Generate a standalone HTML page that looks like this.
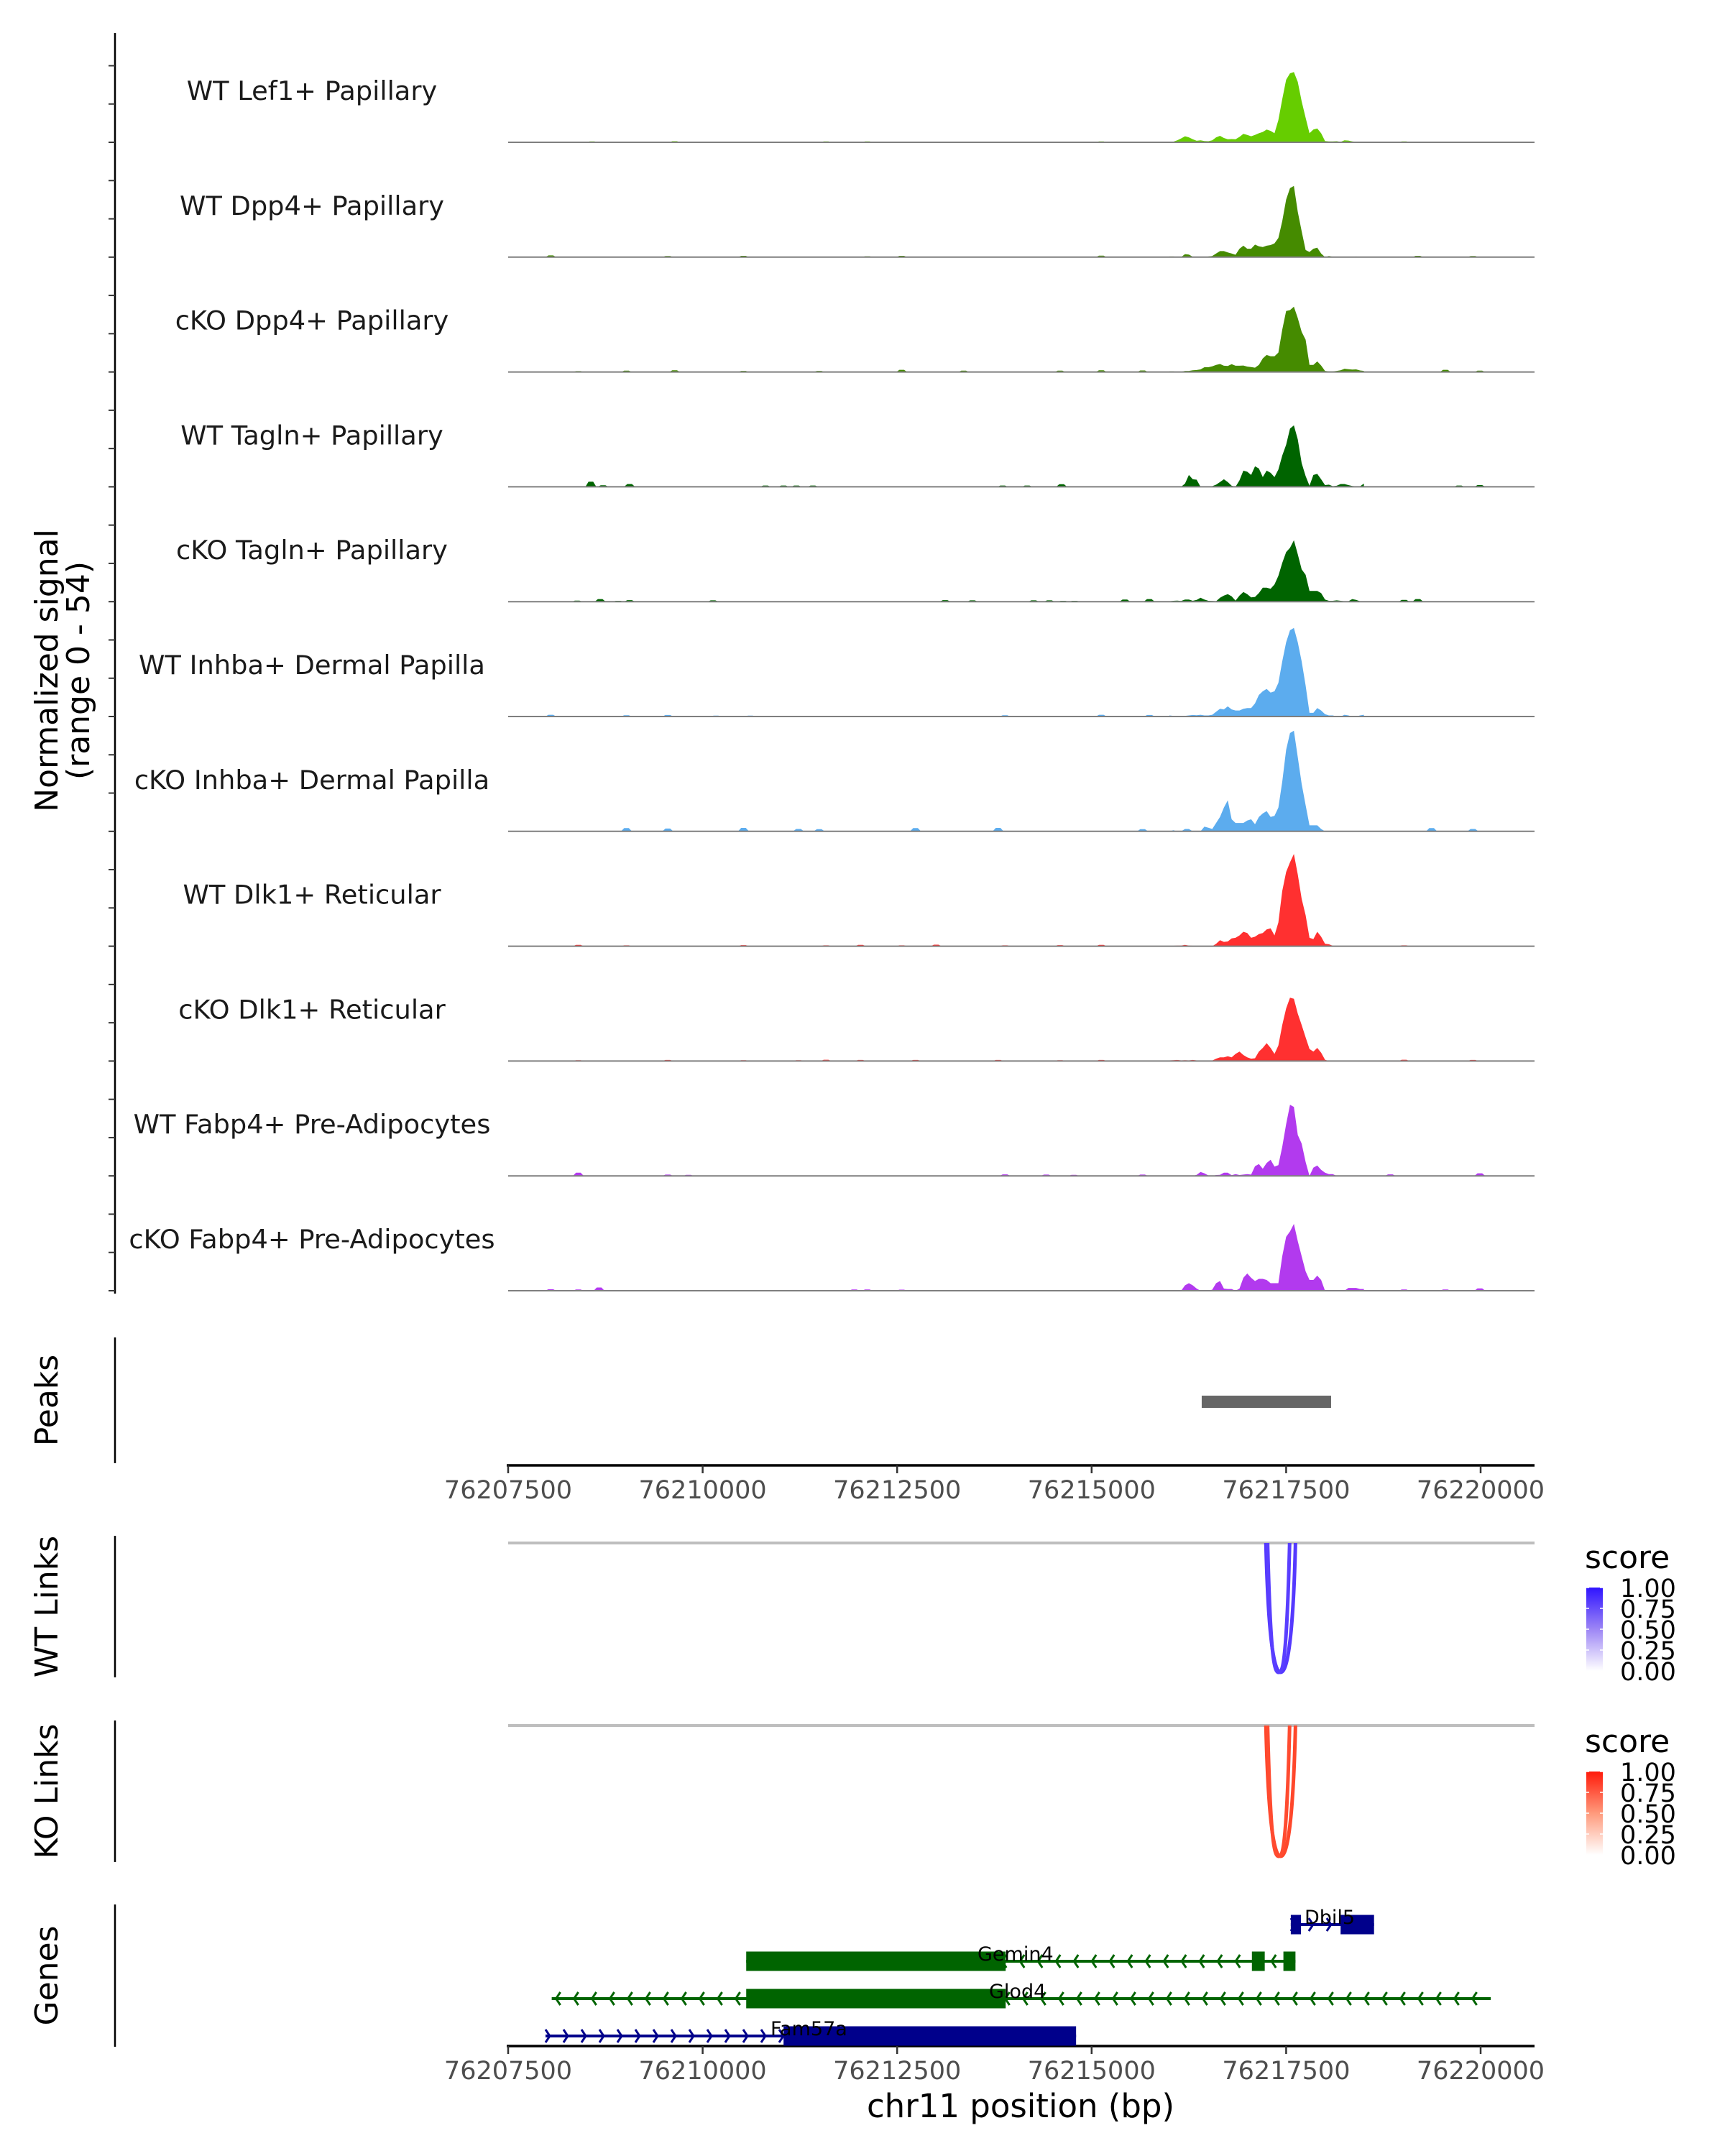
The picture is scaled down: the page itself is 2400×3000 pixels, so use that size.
<!DOCTYPE html>
<html><head><meta charset="utf-8"><style>
html,body{margin:0;padding:0;background:#fff;}
svg{display:block;font-family:"DejaVu Sans","Liberation Sans",sans-serif;}
</style></head><body>
<svg id="fig" width="2400" height="3000" viewBox="0 0 2400 3000" xmlns="http://www.w3.org/2000/svg">
<defs>
<linearGradient id="gWT" x1="0" y1="0" x2="0" y2="1"><stop offset="0" stop-color="#2f14ff"/><stop offset="0.5" stop-color="#9d86f5"/><stop offset="1" stop-color="#ffffff"/></linearGradient>
<linearGradient id="gKO" x1="0" y1="0" x2="0" y2="1"><stop offset="0" stop-color="#ff1a0a"/><stop offset="0.5" stop-color="#ff9a7c"/><stop offset="1" stop-color="#ffffff"/></linearGradient>
</defs>
</svg>
<script>
// ---------- data ----------
const trackNames = ["WT Lef1+ Papillary","WT Dpp4+ Papillary","cKO Dpp4+ Papillary","WT Tagln+ Papillary","cKO Tagln+ Papillary","WT Inhba+ Dermal Papilla","cKO Inhba+ Dermal Papilla","WT Dlk1+ Reticular","cKO Dlk1+ Reticular","WT Fabp4+ Pre-Adipocytes","cKO Fabp4+ Pre-Adipocytes"];
const trackColors = ["#66CD00","#458B00","#458B00","#006400","#006400","#5CACEE","#5CACEE","#FF3030","#FF3030","#B23AEE","#B23AEE"];
const binStart = 76216000;
const binStep = 50;
const sigLef1WT = [0,0.3,0.9,1.8,2.8,2.3,1.4,0.7,0.9,0.6,0.5,0.9,2.3,3,2,1.4,1.5,1.4,2.5,3.9,3.4,2.8,3.4,4.2,4.8,5.9,5.3,4.2,10.3,20,29,32,32.6,28,19,11.4,4.2,5.9,6.4,4.2,0.6,0.4,0.4,0.5,0.2,0.9,0.8,0.4,0.2,0.2,0.2];
const sigDpp4WT = [0.3,0.3,0.2,0,1.4,1.2,0.2,0,0,0.1,0.3,0.5,1.7,2.8,2.8,2.2,1.7,1.1,3.9,5.3,3.9,3.9,5.8,5,4.7,5.3,5.6,6.4,8.9,16.7,26.7,32,33,21,12,3.3,2.4,3.9,4.4,1.7,0,0.5,0.2,0,0,0.2,0,0,0.3,0,0];
const sigDpp4KO = [0.3,0.3,0,0.1,0.5,0.5,0.8,0.9,1.2,2.2,2.2,2.6,3.3,3.7,2.9,2.8,3.6,2.9,2.9,3,2.5,2.3,2,3.3,6.3,7.9,7.3,7.3,9,19.6,28.3,28.7,30.3,25,18.6,15,3.3,3.3,4.9,3,0.5,0.3,0.3,0.5,0.8,1.5,1.3,1.1,1.2,0.7,0.5];
const sigTaglnWT = [0,0,0.1,0,1.5,5.5,3.5,3.3,0,0.3,0.3,0.3,1,2.2,3.5,2.2,0.5,0,3,7.5,7,5.5,9.5,8.5,4.5,7.5,6.5,4.5,8,14.5,19.5,27,28.5,22,11,5,0.5,5.5,6,3.5,0.8,1,0.3,0.5,1.3,1.3,0.8,0.4,0.2,0.2,1.5];
const sigTaglnKO = [0.2,0.4,0.5,0.3,1,1,0.4,0.8,1.8,1,0.4,0.3,0.2,1.8,2.8,3.5,2.5,0.5,2.8,4.5,3.5,2,2.2,4,6.5,6.5,6,8,12,18,23,25,28.5,22,15,12.5,5,5,5,4,1,0.4,0.4,0.6,0.4,0.2,0.2,1.2,0.8,0.2,0];
const sigInhbaWT = [0.5,0.3,0.2,0.3,0.3,0.5,0.7,0.6,0.8,0.5,0.5,0.8,2.2,3.6,3.3,4.7,3.3,2.8,2.8,3.6,3.9,3.9,6.1,10,11.7,12.8,11.1,11.7,15.6,25.6,34.4,40,41.1,34.4,25.6,14.4,1.7,1.7,3.9,2.8,1.1,0.5,0.5,0,0,0.8,0.5,0,0,0.5,0.8];
const sigInhbaKO = [0,0.5,0,0,1.1,1.1,0,0,0,2.2,1.7,1.1,3.9,6.7,11,14.4,5.6,3.9,3.9,3.9,5,5.6,3.3,6.7,8.3,9.4,6.7,7.2,11,23,37.8,45.6,46.7,34.4,22,12.2,2.8,2.8,2.8,1.1,0,0,0,0,0,0,0,0,0,0,0];
const sigDlk1WT = [0,0.2,0.3,0.3,0.6,0.3,0.2,0.2,0.2,0,0,0,1.1,2.8,2,2.2,3.6,3.9,5,6.7,6.1,3.9,4.4,5.6,6.1,7.8,8.3,5,11,25.6,34.4,38.9,42.8,33.3,22,14.4,3.9,3.3,6.7,4.4,1.1,0.9,0.2,0,0,0.2,0,0,0.2,0,0];
const sigDlk1KO = [0.3,0.4,0.5,0.3,0.4,0.3,0.5,0.3,0.3,0,0.2,0.2,1.1,1.7,1.7,2.2,1.7,3.3,4.4,2.8,1.7,1.1,1.3,4.4,6.1,8.3,6.1,3.3,7.2,16.7,24.4,29.4,28.9,22,16.7,11,5.6,4.4,6.1,3.9,0.6,0,0,0.3,0.2,0,0,0,0.3,0.2,0];
const sigFabp4WT = [0,0,0,0,0,0,0,0.5,1.8,1.2,0.2,0,0.4,0.5,1.5,1.5,0.3,0.8,0.4,0.6,0.8,0.6,4.5,5.5,3.3,6,7.5,4.3,5,13.5,24,33,32,19,15,6.5,0,3.8,4.8,2.8,1.5,0.8,0.8,0,0,0,0,0,0,0,0];
const sigFabp4KO = [0,0,0,0,2.5,3.5,2.5,1,0,0,0,0.5,3.5,4.5,1,0.8,0.8,0,1,6,8,6,4.5,5.5,5.5,5,3.5,3.5,3.5,16,25,27.5,31,23,16,9,5,5,7,5,0,0,0,0,0,0,1.3,1.3,1.3,0.8,0.8];
const trackSignals = [sigLef1WT,sigDpp4WT,sigDpp4KO,sigTaglnWT,sigTaglnKO,sigInhbaWT,sigInhbaKO,sigDlk1WT,sigDlk1KO,sigFabp4WT,sigFabp4KO];
const blipPos = [
 [76208579,76209021,76209640,76210171,76211586,76212117,76213002,76215124,76219016,76219724],
 [76208048,76209552,76210525,76212117,76212559,76215124,76219193,76219901],
 [76208402,76209021,76209640,76210525,76211498,76212559,76213355,76214594,76215124,76215655,76219547,76219990],
 [76208563,76208720,76209061,76210808,76211039,76211205,76211417,76213856,76214171,76214614,76219724,76219990],
 [76208387,76208683,76208914,76209061,76210133,76213117,76213468,76214254,76214457,76214633,76214780,76215427,76215741,76219016,76219193],
 [76208048,76209021,76209552,76210171,76210613,76213886,76215124,76215744],
 [76209021,76209552,76210525,76211232,76211498,76212736,76213798,76215655,76219370,76219901],
 [76208402,76209021,76210525,76211586,76212029,76212559,76213002,76213886,76214594,76215124,76219016],
 [76208402,76209552,76210525,76211232,76211586,76212029,76212736,76213798,76214594,76215124,76219016,76219901],
 [76208402,76209552,76209817,76213886,76214417,76214771,76215655,76218839,76219990],
 [76208048,76208402,76208669,76211949,76212117,76212559,76219016,76219547,76219990]
];
const blipVal = [
 [0.4,0.3,0.5,0.3,0.4,0.4,0.3,0.4,0.4,0.3],
 [0.8,0.5,0.6,0.4,0.6,0.7,0.6,0.5],
 [0.4,0.6,0.8,0.5,0.5,1,0.6,0.6,0.8,0.7,1,0.6],
 [2.4,0.7,1.3,0.6,0.6,0.6,0.6,0.6,0.6,1.2,0.6,0.8],
 [0.5,1.2,0.4,0.7,0.6,0.7,0.6,0.6,0.6,0.4,0.4,1,1.2,0.8,1.2],
 [0.8,0.6,0.7,0.4,0.4,0.6,0.8,0.7],
 [1.5,1.3,1.6,1.1,1.0,1.5,1.6,1,1.5,1.1],
 [0.6,0.4,0.5,0.4,0.6,0.4,0.7,0.4,0.5,0.6,0.4],
 [0.4,0.5,0.4,0.4,0.6,0.5,0.5,0.5,0.4,0.5,0.6,0.5],
 [1.5,0.6,0.5,0.7,0.6,0.5,0.6,0.7,1.2],
 [0.7,0.6,1.5,0.6,0.6,0.5,0.6,0.6,1.1]
];
const xTicks = [76207500,76210000,76212500,76215000,76217500,76220000];
const xTickLabels = ["76207500","76210000","76212500","76215000","76217500","76220000"];
const peakStarts = [76216415];
const peakEnds = [76218078];
const linkStarts = [76217240,76217262];
const linkEnds = [76217620,76217545];
const linkScoresWT = [0.92,0.9];
const linkScoresKO = [0.92,0.9];
const legendTicks = [1.00,0.75,0.50,0.25,0.00];
const legendTickLabels = ["1.00","0.75","0.50","0.25","0.00"];
const geneNames = ["Dbil5","Gemin4","Glod4","Fam57a"];
const geneStrands = [1,-1,-1,1];
const geneStarts = [76217560,76210560,76208060,76207980];
const geneEnds = [76218630,76217620,76220130,76214800];
const geneCdsStarts = [76217560,76210560,76210560,76211040];
const geneCdsEnds = [76218630,76213895,76213895,76214800];
const geneExonStarts = [[76217560,76218200],[76217060,76217465],[],[]];
const geneExonEnds = [[76217690,76218630],[76217225,76217620],[],[]];
const geneColors = ["#00008B","#006400","#006400","#00008B"];

// ---------- scales ----------
const NS = "http://www.w3.org/2000/svg";
const svg = document.getElementById("fig");
const X0 = 707, XPX = 1353, BP0 = 76207500, BPSPAN = 12500;
function xScale(bp){ return X0 + (bp - BP0) / BPSPAN * XPX; }
const TRACK_BASE0 = 198, TRACK_STEP = 159.8, YUNIT = 3;
function yScale(v, base){ return base - v * YUNIT; }
function mk(tag, attrs, parent){
  const el = document.createElementNS(NS, tag);
  for (const k in attrs) el.setAttribute(k, attrs[k]);
  (parent || svg).appendChild(el);
  return el;
}
function txt(s, attrs, parent){ const t = mk("text", attrs, parent); t.textContent = s; return t; }

// ---------- signal axis ----------
const yAxis = mk("line",{x1:160,y1:46,x2:160,y2:1800,stroke:"#000","stroke-width":2.5});


for (let i = 0; i < trackNames.length; i++){
  const base = TRACK_BASE0 + i * TRACK_STEP;
  for (let k = 0; k < 3; k++){
    const ty = base - k * TRACK_STEP / 3;
    const tk = mk("line",{x1:151,y1:ty,x2:160,y2:ty,stroke:"#333","stroke-width":2});
    
    
  }
}
const yt = txt("", {transform:"translate(65,933) rotate(-90)","text-anchor":"middle","font-size":44,fill:"#000"});


const ytl1 = mk("tspan",{x:0,y:15},yt); ytl1.textContent = "Normalized signal";
const ytl2 = mk("tspan",{x:0,y:59},yt); ytl2.textContent = "(range 0 - 54)";

// ---------- coverage tracks ----------
for (let i = 0; i < trackNames.length; i++){
  const base = TRACK_BASE0 + i * TRACK_STEP;
  const g = mk("g",{});
  
  
  const vals = trackSignals[i];
  let pts = [xScale(binStart).toFixed(1)+","+base];
  for (let j = 0; j < vals.length; j++){
    pts.push(xScale(binStart + j*binStep).toFixed(1)+","+yScale(vals[j], base).toFixed(1));
  }
  pts.push(xScale(binStart + (vals.length-1)*binStep).toFixed(1)+","+base);
  const area = mk("polygon",{points:pts.join(" "),fill:trackColors[i]}, g);
  
  
  for (let b = 0; b < blipPos[i].length; b++){
    const p = blipPos[i][b], v = blipVal[i][b];
    const bp = [xScale(p-70)+","+base, xScale(p-30)+","+yScale(v,base), xScale(p+30)+","+yScale(v,base), xScale(p+70)+","+base].join(" ");
    const bl = mk("polygon",{points:bp,fill:trackColors[i]}, g);
    
    
  }
  const bl2 = mk("line",{x1:xScale(BP0),y1:base,x2:2135,y2:base,stroke:"#7f7f7f","stroke-width":2}, g);
  
  
  const lab = txt(trackNames[i],{x:434,y:base-72+13,"text-anchor":"middle","font-size":36.8,fill:"#1a1a1a"}, g);
  
  
}

// ---------- panel axes & titles ----------
const panels = [["Peaks",1861,2036,"peaks"],["WT Links",2137,2334,"wt-links"],["KO Links",2394,2591,"ko-links"],["Genes",2650,2848,"genes"]];
for (const p of panels){
  const ax = mk("line",{x1:160,y1:p[1],x2:160,y2:p[2],stroke:"#000","stroke-width":2.5});
  
  
  const t = txt(p[0],{transform:"translate(80,"+((p[1]+p[2])/2)+") rotate(-90)","text-anchor":"middle","font-size":44,fill:"#000"});
  
  
}

// peaks
for (let i = 0; i < peakStarts.length; i++){
  const r = mk("rect",{x:xScale(peakStarts[i]),y:1942,width:xScale(peakEnds[i])-xScale(peakStarts[i]),height:17,fill:"#666666"});
  
  
}

// x axes
function xAxis(y, name){
  const g = mk("g",{});
  
  
  mk("line",{x1:705,y1:y,x2:2135,y2:y,stroke:"#000","stroke-width":3.5}, g);
  for (let i = 0; i < xTicks.length; i++){
    const x = xScale(xTicks[i]);
    const t = mk("line",{x1:x,y1:y,x2:x,y2:y+11,stroke:"#333","stroke-width":2.5}, g);
    
    
    const l = txt(xTickLabels[i],{x:x,y:y+46,"text-anchor":"middle","font-size":35,fill:"#4d4d4d"}, g);
    
    
  }
}
xAxis(2039, 'x-axis-top');
xAxis(2847, 'x-axis-bottom');
const xt = txt("chr11 position (bp)",{x:1420,y:2946,"text-anchor":"middle","font-size":45,fill:"#000"});



// links
function mixColor(s, hi){
  const r = Math.round(255 + (hi[0]-255)*s), g = Math.round(255 + (hi[1]-255)*s), b = Math.round(255 + (hi[2]-255)*s);
  return "rgb("+r+","+g+","+b+")";
}
function linkPanel(lineY, depth, scores, hi, name){
  const gl = mk("line",{x1:707,y1:lineY,x2:2135,y2:lineY,stroke:"#bebebe","stroke-width":4});
  
  
  for (let i = 0; i < linkStarts.length; i++){
    const a = xScale(linkStarts[i]), b = xScale(linkEnds[i]);
    const m = (a + b) / 2;
    const d = "M"+a+","+lineY+" C"+(a+4)+","+(lineY+depth*0.9)+" "+(m-6)+","+(lineY+depth)+" "+m+","+(lineY+depth)+" C"+(m+6)+","+(lineY+depth)+" "+(b-4)+","+(lineY+depth*0.9)+" "+b+","+lineY;
    const p = mk("path",{d:d,fill:"none",stroke:mixColor(scores[i],hi),"stroke-width":5});
    
    
  }
}
linkPanel(2147, 180, linkScoresWT, [70,40,255], 'wt-link');
linkPanel(2401, 182, linkScoresKO, [255,55,25], 'ko-link');

function legend(topY, grad, name){
  const g = mk("g",{});
  
  
  const t = txt("score",{x:2205,y:topY+15,"font-size":44,fill:"#000"}, g);
  
  
  const by0 = topY + 42, bh = 116;
  const bar = mk("rect",{x:2207,y:by0,width:23,height:bh,fill:"url(#"+grad+")"}, g);
  
  
  for (let i = 0; i < legendTicks.length; i++){
    const y = by0 + (1 - legendTicks[i]) * bh;
    mk("line",{x1:2207,y1:y,x2:2211,y2:y,stroke:"#fff","stroke-width":1.5}, g);
    mk("line",{x1:2226,y1:y,x2:2230,y2:y,stroke:"#fff","stroke-width":1.5}, g);
    const l = txt(legendTickLabels[i],{x:2254,y:y+13,"font-size":35,fill:"#000"}, g);
    
    
  }
}
legend(2167, 'gWT', 'wt-score-legend');
legend(2423, 'gKO', 'ko-score-legend');

// genes
const geneRowY = [2678,2729,2781,2833];
for (let i = 0; i < geneNames.length; i++){
  const y = geneRowY[i], col = geneColors[i];
  const g = mk("g",{});
  
  
  const x1 = xScale(geneStarts[i]), x2 = xScale(geneEnds[i]);
  mk("line",{x1:x1,y1:y,x2:x2,y2:y,stroke:col,"stroke-width":4}, g);
  for (let x = x1 + 6; x < x2 - 4; x += 25){
    const dx = geneStrands[i] > 0 ? 6 : -6;
    mk("polyline",{points:(x-dx)+","+(y-9)+" "+(x)+","+y+" "+(x-dx)+","+(y+9),fill:"none",stroke:col,"stroke-width":3}, g);
  }
  const c1 = xScale(geneCdsStarts[i]), c2 = xScale(geneCdsEnds[i]);
  if (geneExonStarts[i].length === 0){
    mk("rect",{x:c1,y:y-13.5,width:c2-c1,height:27,fill:col}, g);
  } else {
    for (let e = 0; e < geneExonStarts[i].length; e++){
      const e1 = xScale(geneExonStarts[i][e]), e2 = xScale(geneExonEnds[i][e]);
      mk("rect",{x:e1,y:y-13.5,width:e2-e1,height:27,fill:col}, g);
    }
    if (i === 1) mk("rect",{x:c1,y:y-13.5,width:c2-c1,height:27,fill:col}, g);
  }
  const labX = [1815,1360,1376,1072][i];
  const l = txt(geneNames[i],{x:labX,y:y-1,"font-size":27,fill:"#000"}, g);
  
  
}
</script>
</body></html>
